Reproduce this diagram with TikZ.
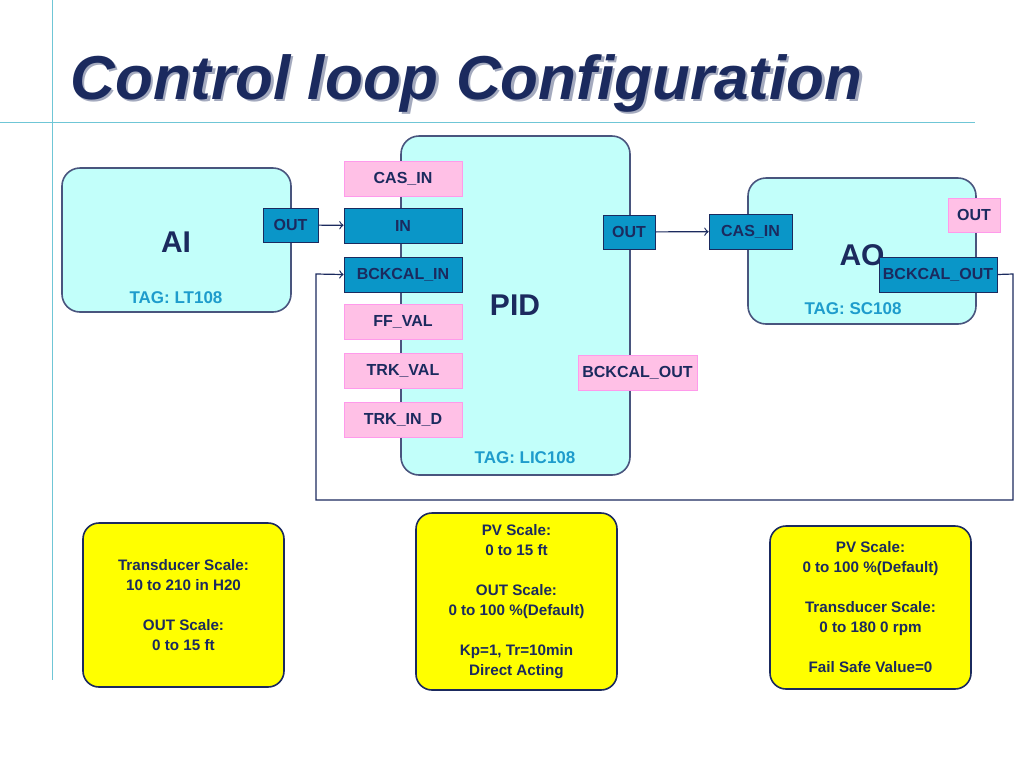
\documentclass[tikz,border=0pt]{standalone}
\usepackage{fontspec}
\setmainfont{Liberation Sans}
\definecolor{navy}{HTML}{1B2A5E}
\definecolor{boxfill}{HTML}{C2FFFA}
\definecolor{portblue}{HTML}{0A96C8}
\definecolor{portpink}{HTML}{FFC0E6}
\definecolor{tagblue}{HTML}{1E9CCC}
\definecolor{rule}{HTML}{6FC6D6}
\definecolor{note}{HTML}{FFFF00}
\tikzset{
  block/.style={draw=navy!80, fill=boxfill, rounded corners=9pt, thick},
  port/.style={draw=navy, fill=portblue, text=navy, font=\bfseries\fontsize{8}{9}\selectfont, inner sep=0pt},
  pport/.style={draw=portpink!80!magenta, fill=portpink, text=navy, font=\bfseries\fontsize{8}{9}\selectfont, inner sep=0pt},
  note/.style={draw=navy, fill=note, rounded corners=8pt, thick, align=center, text=navy,
    font=\bfseries\fontsize{7.6}{10}\selectfont, minimum width=100.5pt},
  big/.style={text=navy, font=\bfseries\fontsize{15}{16}\selectfont},
  tag/.style={text=tagblue, font=\bfseries\fontsize{8.5}{9}\selectfont},
  headline/.style={anchor=west, inner sep=0pt, font=\bfseries\itshape\fontsize{31}{33}\selectfont},
  wire/.style={draw=navy, semithick}
}
\begin{document}
\begin{tikzpicture}[x=0.5pt, y=-0.5pt]
    \useasboundingbox (0,0) rectangle (1024,768);
    \draw[rule] (0,122) -- (975,122);
    \draw[rule] (52,0) -- (52,680);
    \node[headline, text=navy!40, xshift=1.2pt, yshift=-1.2pt] at (70,83) {Control loop Configuration};
    \node (title) [headline, text=navy] at (70,83) {Control loop Configuration};
    % function blocks
    \draw[block] (62,168) rectangle (291,312);
    \draw[block] (401,136) rectangle (630,475);
    \draw[block] (748,178) rectangle (976,324);
    \node (ai) [big] at (176,242) {AI};
    \node (pid) [big] at (515,305) {PID};
    \node (ao) [big] at (862,255) {AO};
    \node (tagai) [tag] at (176,298) {TAG: LT108};
    \node (tagpid) [tag] at (525,458) {TAG: LIC108};
    \node (tagao) [tag] at (853,309) {TAG: SC108};
    % ports
    \node (aiout) [port, minimum width=27.5pt, minimum height=17pt] at (290.5,225) {OUT};
    \node (cas) [pport, minimum width=59pt, minimum height=17.5pt] at (403,178.5) {CAS\_IN};
    \node (in) [port, minimum width=59pt, minimum height=17.5pt] at (403,225.5) {IN};
    \node (bkin) [port, minimum width=59pt, minimum height=17.5pt] at (403,274.5) {BCKCAL\_IN};
    \node (ff) [pport, minimum width=59pt, minimum height=17.5pt] at (403,321.5) {FF\_VAL};
    \node (trk) [pport, minimum width=59pt, minimum height=17.5pt] at (403,370.5) {TRK\_VAL};
    \node (trkd) [pport, minimum width=59pt, minimum height=17.5pt] at (403,419.5) {TRK\_IN\_D};
    \node (pidout) [port, minimum width=26pt, minimum height=17pt] at (629,232) {OUT};
    \node (bkout) [pport, minimum width=59.5pt, minimum height=17.5pt] at (637.5,372.5) {BCKCAL\_OUT};
    \node (aocas) [port, minimum width=41.5pt, minimum height=17.5pt] at (750.5,231.5) {CAS\_IN};
    \node (aoout) [pport, minimum width=26pt, minimum height=17pt] at (974,215) {OUT};
    \node (aobk) [port, minimum width=59pt, minimum height=17.5pt] at (938,274.5) {BCKCAL\_OUT};
    % connections
    \coordinate (c1) at (1013,274);
    \coordinate (c2) at (1013,500);
    \coordinate (c3) at (316,500);
    \coordinate (c4) at (316,274);
    \draw[wire, ->] (aiout) -- (in);
    \draw[wire, ->] (pidout) -- (aocas);
    \draw[wire, ->] (aobk.east) -- (c1) -- (c2) -- (c3) -- (c4) -- (bkin.west);
    % notes
    \node (n1) [note, minimum height=82pt] at (183.5,605) {Transducer Scale:\\10 to 210 in H20\\[10pt]OUT Scale:\\0 to 15 ft};
    \node (n2) [note, minimum height=88.5pt] at (516.5,601.5) {PV Scale:\\0 to 15 ft\\[10pt]OUT Scale:\\0 to 100 \%(Default)\\[10pt]Kp=1, Tr=10min\\Direct Acting};
    \node (n3) [note, minimum height=81.5pt] at (870.5,607.5) {PV Scale:\\0 to 100 \%(Default)\\[10pt]Transducer Scale:\\0 to 180 0 rpm\\[10pt]Fail Safe Value=0};
\end{tikzpicture}
\end{document}
